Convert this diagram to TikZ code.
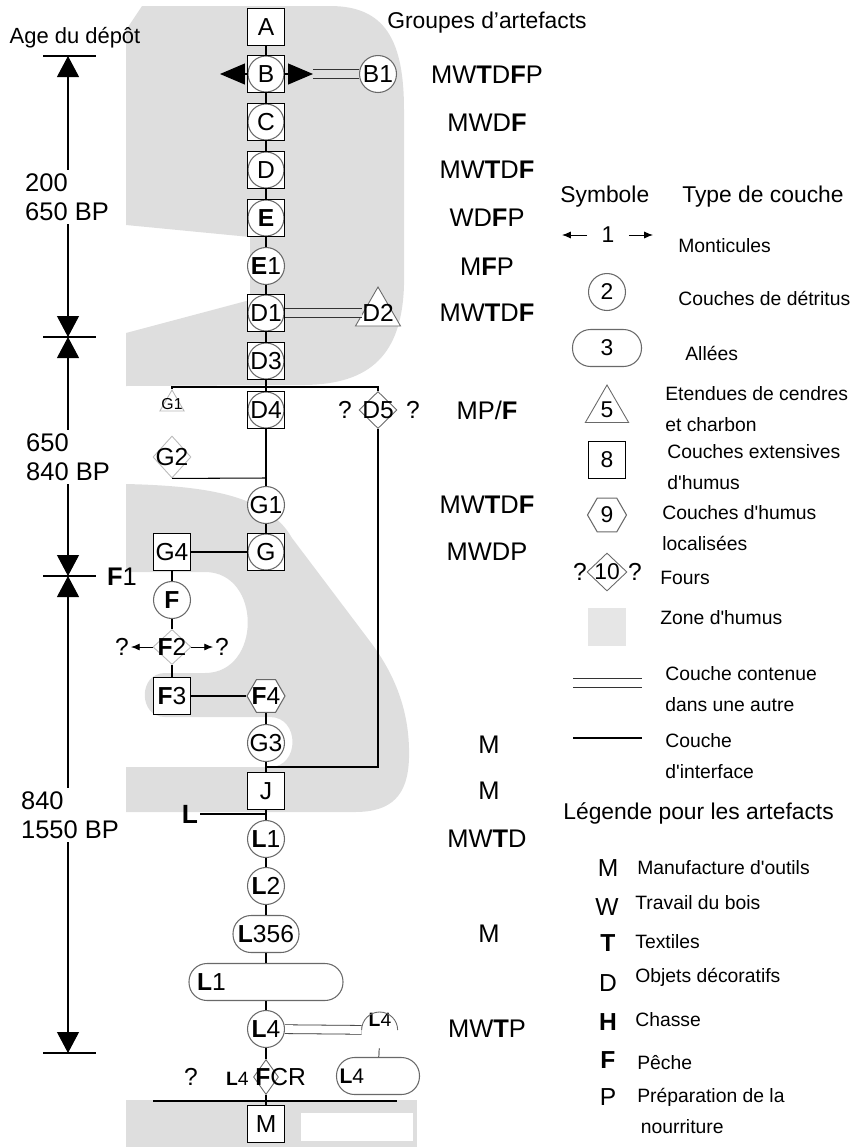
\documentclass[tikz,border=0pt]{standalone}
\usepackage{fontspec}
\setmainfont{Liberation Sans}
\usetikzlibrary{arrows.meta,positioning,shapes.geometric}
\definecolor{humusGray}{RGB}{222,222,222}
\definecolor{layerGray}{RGB}{105,105,105}
\newcommand{\artb}[1]{\textbf{#1}}
\newcommand{\apos}{\textquotesingle}

\begin{document}
\begin{tikzpicture}[x=0.02cm, y=-0.02cm,
    txt/.style={font=\fontsize{14}{15}\selectfont, inner sep=1pt},
    lyr/.style={txt, fill=white, inner sep=0pt},
    sqbox/.style={lyr, rectangle, draw, line width=0.8pt, minimum size=0.75cm},
    sqcirc/.style={sqbox, path picture={\draw[layerGray, line width=0.6pt]
        (path picture bounding box.center) circle (0.36cm);}},
    circ/.style={lyr, circle, draw=layerGray, line width=0.6pt, minimum size=0.74cm},
    stad/.style={lyr, rectangle, rounded corners=0.36cm, draw=layerGray,
        line width=0.6pt, minimum height=0.74cm},
    losange/.style={diamond, draw=layerGray, fill=white, line width=0.5pt, inner sep=0pt,
        minimum width=0.76cm, minimum height=0.74cm, label={[txt]center:#1}},
    hexa/.style={regular polygon, regular polygon sides=6, draw=layerGray, fill=white,
        line width=0.6pt, inner sep=0pt, minimum size=0.76cm, label={[txt]center:#1}},
    trig/.style={regular polygon, regular polygon sides=3, draw=layerGray, fill=white,
        line width=0.5pt, inner sep=0pt, minimum size=1cm, label={[txt]center:#1}},
    link/.style={draw, line width=0.6pt},
    contained/.style={draw=black!80, line width=0.45pt, double=#1, double distance=0.16cm},
    contained/.default=white,
    mound/.style={-{Triangle[length=0.5cm, width=0.42cm]}, line width=0.6pt},
    scalearrow/.style={-{Triangle[length=0.42cm, width=0.44cm]}, line width=0.6pt},
    thinarrow/.style={-{Latex[length=5pt, width=4pt]}, line width=0.5pt},
    period/.style={font=\fontsize{14.5}{16.5}\selectfont, align=left, inner sep=2pt},
    arte/.style={font=\fontsize{14.5}{16}\selectfont, inner sep=1pt},
    headtxt/.style={font=\fontsize{13}{14}\selectfont, inner sep=0pt},
    legtxt/.style={font=\fontsize{11}{17.5}\selectfont, align=left, anchor=west, inner sep=0pt}
  ]
  \useasboundingbox (0,0) rectangle (860,1147);

  % zones d'humus
  \fill[humusGray] (142,6) -- (330,6) .. controls (385,6) and (404,40) .. (404,110)
    -- (404,285) .. controls (402,355) and (370,384) .. (305,385) -- (126,386)
    -- (126,333) -- (250,300) -- (250,237) -- (126,225) -- (126,30) -- cycle;
  \fill[humusGray] (126,484) .. controls (210,486) and (268,496) .. (292,538)
    -- (372,644) .. controls (400,682) and (410,720) .. (409,758)
    .. controls (408,795) and (392,812) .. (355,812) -- (126,812) -- (126,767)
    -- (270,767) .. controls (300,767) and (300,717) .. (270,717)
    -- (165,717) .. controls (138,717) and (138,673) .. (165,673)
    -- (205,673) .. controls (262,673) and (262,572) .. (205,572) -- (126,572) -- cycle;
  \fill[humusGray] (126,1100) rectangle (417,1147);
  \fill[white] (301,1113) rectangle (413,1141);

  % echelle des ages
  \node[font=\fontsize{12.5}{14}\selectfont, inner sep=0pt] (age) at (75,38) {Age du dépôt};
  \foreach \ty in {56,337,576,1053}
    \draw[line width=0.6pt] (43,\ty) -- (96,\ty);
  \coordinate (t0) at (68,56);
  \coordinate (t1) at (68,337);
  \coordinate (t2) at (68,576);
  \coordinate (t3) at (68,1053);
  \node[period] (per1) at (67,197) {200\\650 BP};
  \node[period] (per2) at (68,457) {650\\840 BP};
  \node[period] (per3) at (70,815) {840\\1550 BP};
  \draw[scalearrow] (per1.north -| t0) -- (t0);
  \draw[scalearrow] (per1.south -| t0) -- (t1);
  \draw[scalearrow] (per2.north -| t0) -- (t1);
  \draw[scalearrow] (per2.south -| t0) -- (t2);
  \draw[scalearrow] (per3.north -| t0) -- (t2);
  \draw[scalearrow] (per3.south -| t0) -- (t3);
  \node[txt, font=\fontsize{14.5}{16}\selectfont] (f1lbl) at (122,577) {\artb{F}1};

  % couches
  \node[sqbox] (a) at (266,27) {A};
  \node[sqcirc] (b) at (266,74) {B};
  \node[circ] (b1) at (378,74) {B1};
  \node[sqcirc] (c) at (266,122) {C};
  \node[sqcirc] (d) at (266,170) {D};
  \node[sqcirc] (e) at (266,218) {\artb{E}};
  \node[circ] (e1) at (266,266) {\artb{E}1};
  \node[sqcirc] (d1) at (266,313) {D1};
  \node[trig=D2, minimum size=1.04cm] (d2) at (378,313) {};
  \node[sqcirc] (d3) at (266,361) {D3};
  \node[sqcirc] (d4) at (266,410) {D4};
  \node[trig={\fontsize{9}{10}\selectfont G1}, draw=gray!55, fill=none,
        minimum size=0.56cm] (g1s) at (172,404) {};
  \node[losange=D5] (d5) at (378,410) {};
  \node[txt] (qd5l) at (345,410) {?};
  \node[txt] (qd5r) at (413,410) {?};
  \node[losange=G2, draw=gray!55, fill=none, minimum height=0.84cm] (g2) at (172,457) {};
  \node[circ] (g1) at (266,505) {G1};
  \node[sqcirc] (g) at (266,552) {G};
  \node[sqbox] (g4) at (172,552) {G4};
  \node[circ] (f) at (172,600) {\artb{F}};
  \node[losange={\artb{F}2}, draw=gray!55, fill=none, minimum height=0.7cm] (f2) at (172,647) {};
  \node[txt] (qf2l) at (122,647) {?};
  \node[txt] (qf2r) at (222,647) {?};
  \node[sqbox] (f3) at (172,696) {\artb{F}3};
  \node[hexa={\artb{F}4}] (f4) at (266,696) {};
  \node[circ] (g3) at (266,743) {G3};
  \node[sqbox] (j) at (266,791) {J};
  \node[txt, font=\fontsize{15}{16}\selectfont\bfseries] (lbl) at (190,814) {L};
  \node[circ] (l1) at (266,839) {\artb{L}1};
  \node[circ] (l2) at (266,886) {\artb{L}2};
  \node[stad, minimum width=1.32cm] (l356) at (266,934) {\artb{L}356};
  \node[stad, inner xsep=0.16cm, text width=2.76cm, align=left] (l1w) at (266,982) {\artb{L}1};
  \node[circ] (l4) at (266,1029) {\artb{L}4};
  \node[circle, inner sep=0pt, minimum size=0.72cm,
        label={[font=\fontsize{11}{12}\selectfont, inner sep=0pt, yshift=6pt]center:\artb{L}4}]
        (l4t) at (380,1030) {};
  \node[stad, inner xsep=0.06cm, text width=1.54cm, align=left,
        font=\fontsize{12}{13}\selectfont] (l4a) at (378,1076) {\artb{L}4};
  \node[diamond, draw=layerGray, fill=white, line width=0.5pt, inner sep=0pt,
        minimum width=0.5cm, minimum height=0.7cm,
        label={[txt]center:{\fontsize{11}{12}\selectfont\artb{L}4} \artb{F}CR}] (fcr) at (266,1077) {};
  \node[txt] (qfcr) at (191,1077) {?};
  \node[sqbox] (m) at (266,1124) {M};

  % liaisons
  \coordinate (split) at (266,387);
  \coordinate (g2join) at (266,478);
  \coordinate (d5join) at (266,767);
  \coordinate (ljoin) at (266,814);
  \coordinate (bl) at (220,74);
  \coordinate (br) at (313,74);
  \coordinate (baseL) at (153,1101);
  \coordinate (baseR) at (397,1101);
  \draw[link] (a) -- (b) -- (c) -- (d) -- (e) -- (e1) -- (d1) -- (d3) -- (d4) -- (g1) -- (g);
  \draw[link] (g) -- (g4) -- (f) -- (f2) -- (f3) -- (f4) -- (g3) -- (j) -- (l1) -- (l2)
    -- (l356) -- (l1w) -- (l4) -- (fcr) -- (m);
  \draw[link] (g1s.north) |- (split) -| (d5.north);
  \draw[link] (g2.south) -- (g2join);
  \draw[link] (d5.south) |- (d5join);
  \draw[link] (lbl) -- (ljoin);
  \draw[link] (baseL) -- (baseR);
  \draw[mound] (b) -- (bl);
  \draw[mound] (b) -- (br);
  \draw[contained=humusGray] (br) -- (b1);
  \draw[contained=humusGray] (d1) -- (d2);
  \draw[contained] (l4) -- (l4t);
  \draw[layerGray, line width=0.5pt] (l4t.west) arc[start angle=180, end angle=0, radius=0.36cm];
  \draw[link, line width=0.4pt] (l4t) -- (l4a);
  \draw[thinarrow] (f2) -- (qf2l);
  \draw[thinarrow] (f2) -- (qf2r);

  % groupes d'artefacts
  \node[headtxt] (grpHead) at (487,23) {Groupes d’artefacts};
  \node[arte] (grpB) at (487,75) {MW\artb{T}D\artb{F}P};
  \node[arte] (grpC) at (487,123) {MWD\artb{F}};
  \node[arte] (grpD) at (487,170) {MW\artb{T}D\artb{F}};
  \node[arte] (grpE) at (487,218) {WD\artb{F}P};
  \node[arte] (grpE1) at (487,267) {M\artb{F}P};
  \node[arte] (grpD1) at (487,313) {MW\artb{T}D\artb{F}};
  \node[arte] (grpD4) at (487,410) {MP/\artb{F}};
  \node[arte] (grpG1) at (487,505) {MW\artb{T}D\artb{F}};
  \node[arte] (grpG) at (487,552) {MWDP};
  \node[arte] (grpG3) at (489,745) {M};
  \node[arte] (grpJ) at (489,791) {M};
  \node[arte] (grpL1) at (487,839) {MW\artb{T}D};
  \node[arte] (grpL356) at (489,934) {M};
  \node[arte] (grpL4) at (487,1029) {MW\artb{T}P};

  % legende des couches
  \node[headtxt, anchor=west] (symHead) at (560,197) {Symbole};
  \node[headtxt, anchor=west] (typeHead) at (682,197) {Type de couche};
  \node[txt, font=\fontsize{13}{14}\selectfont, inner xsep=8pt] (leg1) at (608,235) {1};
  \coordinate (legArrL) at (562,235);
  \coordinate (legArrR) at (653,235);
  \draw[thinarrow] (leg1) -- (legArrL);
  \draw[thinarrow] (leg1) -- (legArrR);
  \node[legtxt] (desc1) at (678,246) {Monticules};
  \node[circ, font=\fontsize{13}{14}\selectfont] (leg2) at (607,292) {2};
  \node[legtxt] (desc2) at (678,298) {Couches de détritus};
  \node[stad, minimum width=1.38cm, font=\fontsize{13}{14}\selectfont] (leg3) at (607,348) {3};
  \node[legtxt] (desc3) at (685,353) {Allées};
  \node[trig={\fontsize{13}{14}\selectfont 5}] (leg5) at (607,410) {};
  \node[legtxt] (desc5) at (665,409) {Etendues de cendres\\et charbon};
  \node[sqbox, font=\fontsize{13}{14}\selectfont] (leg8) at (607,460) {8};
  \node[legtxt] (desc8) at (667,467) {Couches extensives\\d\apos humus};
  \node[hexa={\fontsize{13}{14}\selectfont 9}, minimum size=0.78cm] (leg9) at (607,515) {};
  \node[legtxt] (desc9) at (662,528) {Couches d\apos humus\\localisées};
  \node[losange={\fontsize{13}{14}\selectfont 10}, minimum width=0.8cm, minimum height=0.76cm] (leg10) at (607,572) {};
  \node[txt] (leg10l) at (580,572) {?};
  \node[txt] (leg10r) at (635,572) {?};
  \node[legtxt] (desc10) at (660,578) {Fours};
  \node[rectangle, fill=humusGray!75, minimum size=0.76cm] (legZone) at (607,627) {};
  \node[legtxt] (descZone) at (660,618) {Zone d\apos humus};
  \coordinate (legDblA) at (573,683);
  \coordinate (legDblB) at (642,683);
  \draw[contained] (legDblA) -- (legDblB);
  \node[legtxt] (descDbl) at (665,689) {Couche contenue\\dans une autre};
  \coordinate (legIntA) at (573,738);
  \coordinate (legIntB) at (642,738);
  \draw[link] (legIntA) -- (legIntB);
  \node[legtxt] (descInt) at (665,756) {Couche\\d\apos interface};

  % legende des artefacts
  \node[headtxt, anchor=west] (artHead) at (563,813) {Légende pour les artefacts};
  \node[txt] (artM) at (608,868) {M};
  \node[legtxt] (descM) at (637,868) {Manufacture d\apos outils};
  \node[txt] (artW) at (607,907) {W};
  \node[legtxt] (descW) at (635,903) {Travail du bois};
  \node[txt] (artT) at (608,943) {\artb{T}};
  \node[legtxt] (descT) at (635,942) {Textiles};
  \node[txt] (artD) at (608,983) {D};
  \node[legtxt] (descD) at (635,977) {Objets décoratifs};
  \node[txt] (artH) at (608,1022) {\artb{H}};
  \node[legtxt] (descH) at (635,1020) {Chasse};
  \node[txt] (artF) at (608,1060) {\artb{F}};
  \node[legtxt] (descF) at (637,1063) {Pêche};
  \node[txt] (artP) at (608,1097) {P};
  \node[legtxt] (descP) at (637,1111) {Préparation de la\\\hspace*{2pt}nourriture};
\end{tikzpicture}
\end{document}
